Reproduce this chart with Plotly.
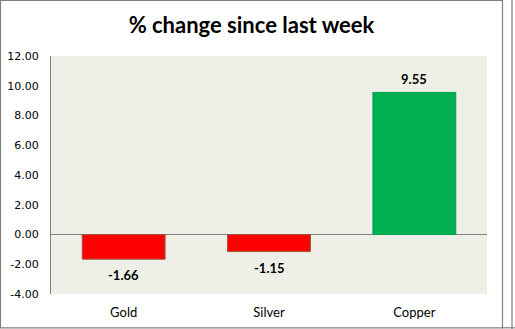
import plotly.graph_objects as go

categories = ["Gold", "Silver", "Copper"]
values = [-1.66, -1.15, 9.55]
bar_colors = ["#FF0000", "#FF0000", "#00B050"]
line_colors = ["#9C5A3C", "#9C5A3C", "#00A04A"]
y_ticks = [-4, -2, 0, 2, 4, 6, 8, 10, 12]
y_tick_labels = [f"{v:.2f}" for v in y_ticks]
title_text = "% change since last week"

fig = go.Figure()
fig.add_trace(go.Bar(
    x=categories, y=values,
    marker=dict(color=bar_colors, line=dict(color=line_colors, width=1)),
    width=0.57, hoverinfo="skip",
))

for c, v in zip(categories, values):
    fig.add_annotation(
        x=c, y=v, text=f"<b>{v:.2f}</b>", showarrow=False,
        yshift=13 if v >= 0 else -16,
        font=dict(family="Lato", size=13, color="#000000"),
    )

W, H = 515, 329
L, R, T, B = 51, 28, 56, 35
pw, ph = W - L - R, H - T - B

def px(x):
    return (x - L) / pw

def py(y):
    return (H - B - y) / ph

shapes = [
    dict(type="rect", xref="paper", yref="paper",
         x0=px(0.5), x1=px(502.5), y0=py(327.8), y1=py(0.5),
         line=dict(color="#808080", width=1.2), layer="below"),
    dict(type="line", xref="paper", yref="paper",
         x0=px(512), x1=px(512), y0=py(329), y1=py(0),
         line=dict(color="#808080", width=1.2)),
    dict(type="line", xref="paper", yref="paper",
         x0=px(502), x1=px(515), y0=py(327.8), y1=py(327.8),
         line=dict(color="#808080", width=1.2)),
]

fig.update_layout(
    width=W, height=H,
    margin=dict(l=L, r=R, t=T, b=B, autoexpand=False),
    paper_bgcolor="#FFFFFF",
    plot_bgcolor="#EEF0E8",
    showlegend=False,
    shapes=shapes,
    title=dict(
        text=f"<b>{title_text}</b>",
        x=px(251.5), xref="paper", xanchor="center",
        y=1 - 25 / H, yanchor="middle",
        font=dict(family="Lato", size=22, color="#000000"),
    ),
    xaxis=dict(
        showgrid=False, zeroline=False, showline=False, automargin=False,
        ticks="outside", ticklen=6, tickcolor="rgba(0,0,0,0)",
        tickfont=dict(family="Lato", size=13, color="#000000"),
    ),
    yaxis=dict(
        range=[-4, 12], tickvals=y_ticks, ticktext=y_tick_labels,
        showgrid=False, zeroline=True, zerolinecolor="#808080", zerolinewidth=1,
        showline=True, linecolor="#808080", linewidth=1, automargin=False,
        ticks="outside", ticklen=9, tickcolor="rgba(0,0,0,0)",
        tickfont=dict(family="DejaVu Sans", size=11, color="#000000"),
    ),
)

fig.write_html("out.html")
